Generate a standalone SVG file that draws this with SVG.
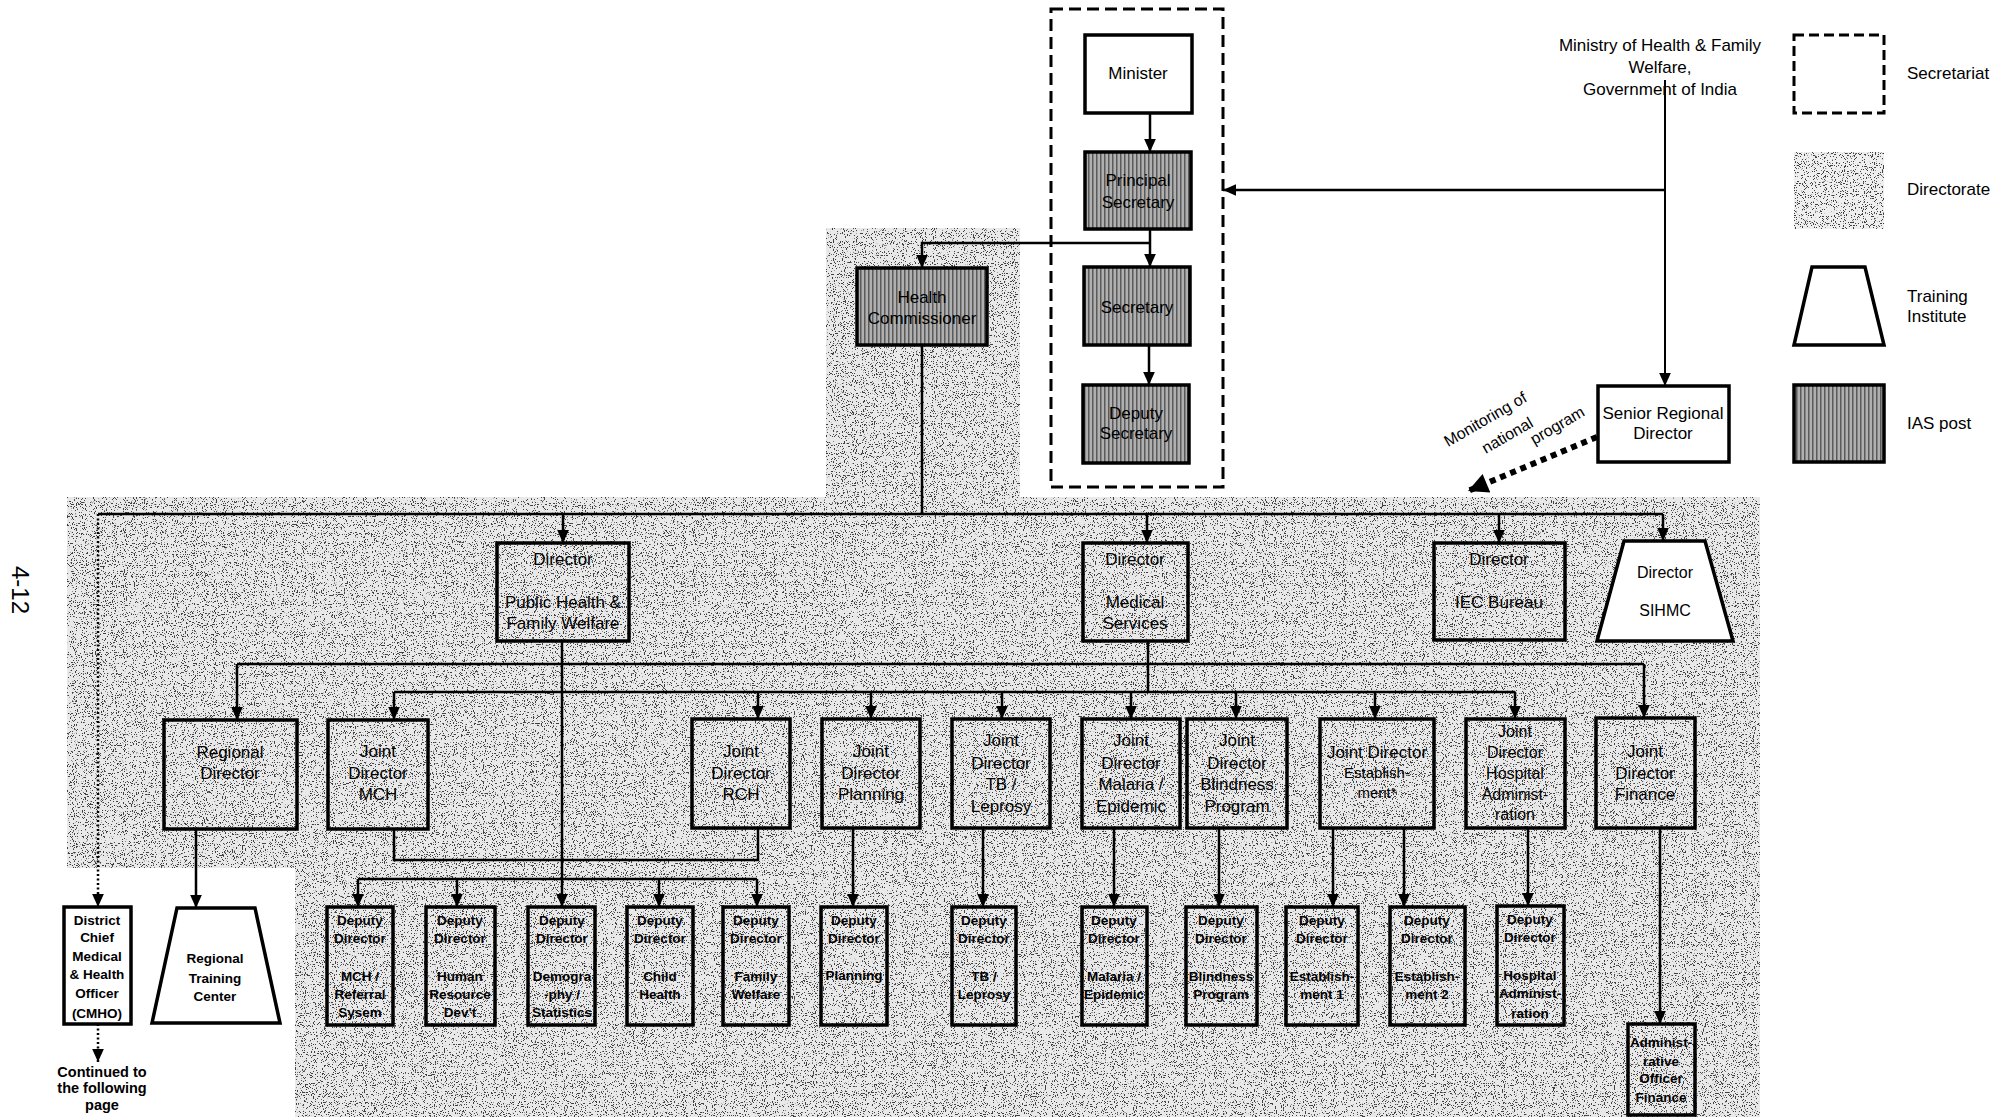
<svg xmlns="http://www.w3.org/2000/svg" width="2016" height="1117" viewBox="0 0 2016 1117">
<defs>
<style>
.t{font-family:"Liberation Sans",Arial,sans-serif;font-size:17px;text-anchor:middle;fill:#000}
.s{font-size:13.5px;font-weight:bold}
.h{font-size:16px}
.l{text-anchor:start}
.b{fill:none;stroke:#000;stroke-width:3.5}
.w{fill:#fff;stroke:#000;stroke-width:3.5}
.i{fill:url(#iasp);stroke:#000;stroke-width:3.5}
.c{fill:none;stroke:#000;stroke-width:2.5}
.ca{fill:none;stroke:#000;stroke-width:2.5;marker-end:url(#ah)}
.dot{fill:none;stroke:#000;stroke-width:2.5;stroke-dasharray:2 2.5;marker-end:url(#ah)}
</style>
<marker id="ah" viewBox="0 0 10 10" refX="10" refY="5" markerWidth="14" markerHeight="13" markerUnits="userSpaceOnUse" orient="auto"><path d="M0,0.5 L10,5 L0,9.5 z" fill="#000"/></marker>
<marker id="ahb" viewBox="0 0 10 10" refX="10" refY="5" markerWidth="22" markerHeight="20" markerUnits="userSpaceOnUse" orient="auto"><path d="M0,0 L10,5 L0,10 z" fill="#000"/></marker>
<pattern id="iasp" width="4" height="4" patternUnits="userSpaceOnUse"><rect width="4" height="4" fill="#b0b0b0"/><rect width="1.5" height="4" fill="#5a5a5a"/></pattern>
<filter id="speck" x="0" y="0" width="1" height="1" color-interpolation-filters="sRGB">
<feTurbulence type="fractalNoise" baseFrequency="0.9" numOctaves="2" seed="5" result="n"/>
<feColorMatrix in="n" type="matrix" values="0 0 0 0 0.25  0 0 0 0 0.25  0 0 0 0 0.25  -24 0 0 0 9.4" result="d"/>
<feComposite in="d" in2="SourceGraphic" operator="in" result="dc"/>
<feMerge><feMergeNode in="SourceGraphic"/><feMergeNode in="dc"/></feMerge>
</filter>
</defs>
<rect width="2016" height="1117" fill="#fff"/>

<g id="directorate-area">
<path d="M67,497 H826 V228 H1020 V497 H1760 V1117 H295 V868 H67 Z" fill="#e9e9e9" filter="url(#speck)"/>
</g>

<text class="t" transform="translate(20,590) rotate(90)" style="font-size:24px" dy="8">4-12</text>

<g id="connectors">
<path class="ca" d="M1150,113 V152"/>
<path class="ca" d="M1150,229 V267"/>
<path class="ca" d="M1150,243 H922 V268"/>
<path class="ca" d="M1149,345 V385"/>
<path class="ca" d="M1665,80 V386" style="stroke-width:2"/>
<path class="ca" d="M1665,190 H1223"/>
<path class="c" d="M922,345 V514"/>
<path class="c" d="M98,514 H1663"/>
<path class="ca" d="M563,514 V543"/>
<path class="ca" d="M1147,514 V543"/>
<path class="ca" d="M1499,514 V543"/>
<path class="ca" d="M1663,514 V541"/>
<path class="dot" d="M98,514 V907"/>
<path class="dot" d="M98,1024 V1062"/>
<path class="ca" d="M562,641 V907"/>
<path class="c" d="M237,664 H1644"/>
<path class="ca" d="M237,664 V720"/>
<path class="ca" d="M1644,664 V718"/>
<path class="c" d="M1148,641 V692"/>
<path class="c" d="M394,692 H1515"/>
<path class="ca" d="M394,692 V720"/>
<path class="ca" d="M758,692 V719"/>
<path class="ca" d="M871,692 V719"/>
<path class="ca" d="M1002,692 V719"/>
<path class="ca" d="M1131,692 V719"/>
<path class="ca" d="M1236,692 V719"/>
<path class="ca" d="M1375,692 V719"/>
<path class="ca" d="M1515,692 V719"/>
<path class="ca" d="M196,829 V908"/>
<path class="c" d="M394,829 V860 H758 V828"/>
<path class="c" d="M358,879 H757"/>
<path class="ca" d="M358,879 V907"/>
<path class="ca" d="M457,879 V907"/>
<path class="ca" d="M659,879 V907"/>
<path class="ca" d="M757,879 V907"/>
<path class="ca" d="M853,828 V907"/>
<path class="ca" d="M983,828 V907"/>
<path class="ca" d="M1114,828 V907"/>
<path class="ca" d="M1219,828 V907"/>
<path class="ca" d="M1333,828 V907"/>
<path class="ca" d="M1404,828 V907"/>
<path class="ca" d="M1528,828 V906"/>
<path class="ca" d="M1660,828 V1024"/>
<path d="M1597,437 L1468,491" fill="none" stroke="#000" stroke-width="6" stroke-dasharray="6 5" marker-end="url(#ahb)"/>
</g>

<g id="secretariat"><rect x="1051" y="9" width="172" height="478" fill="none" stroke="#000" stroke-width="3" stroke-dasharray="12 6"/></g>

<g id="minister"><rect class="w" x="1085" y="35" width="107" height="78"/><text class="t" x="1138" y="79">Minister</text></g>
<g id="principal-secretary"><rect class="i" x="1085" y="152" width="106" height="77"/><text class="t" x="1138" y="186">Principal</text><text class="t" x="1138" y="208">Secretary</text></g>
<g id="secretary"><rect class="i" x="1084" y="267" width="106" height="78"/><text class="t" x="1137" y="313">Secretary</text></g>
<g id="deputy-secretary"><rect class="i" x="1083" y="385" width="106" height="78"/><text class="t" x="1136" y="419">Deputy</text><text class="t" x="1136" y="439">Secretary</text></g>
<g id="health-commissioner"><rect class="i" x="857" y="268" width="130" height="77"/><text class="t" x="922" y="303">Health</text><text class="t" x="922" y="324">Commissioner</text></g>

<g id="ministry"><text class="t" x="1660" y="51">Ministry of Health &amp; Family</text><text class="t" x="1660" y="73">Welfare,</text><text class="t" x="1660" y="95">Government of India</text></g>
<g id="senior-regional-director"><rect class="w" x="1598" y="386" width="131" height="76"/><text class="t" x="1663" y="419">Senior Regional</text><text class="t" x="1663" y="439">Director</text></g>
<g id="monitoring-label">
<text class="t h" transform="translate(1488,424) rotate(-30)">Monitoring of</text>
<text class="t h" transform="translate(1510,440) rotate(-30)">national</text>
<text class="t h" transform="translate(1560,430) rotate(-30)">program</text>
</g>

<g id="legend">
<rect x="1794" y="35" width="90" height="78" fill="#fff" stroke="#000" stroke-width="3" stroke-dasharray="10 5"/>
<rect x="1794" y="152" width="90" height="77" fill="#efefef" filter="url(#speck)"/>
<path class="w" d="M1812,267 H1865 L1884,345 H1794 Z"/>
<rect class="i" x="1794" y="385" width="90" height="77"/>
<text class="t l" x="1907" y="79">Secretariat</text>
<text class="t l" x="1907" y="195">Directorate</text>
<text class="t l" x="1907" y="302">Training</text>
<text class="t l" x="1907" y="322">Institute</text>
<text class="t l" x="1907" y="429">IAS post</text>
</g>

<g id="dir-phfw"><rect class="b" x="497" y="543" width="132" height="98"/><text class="t" x="563" y="565">Director</text><text class="t" x="563" y="608">Public Health &amp;</text><text class="t" x="563" y="629">Family Welfare</text></g>
<g id="dir-ms"><rect class="b" x="1083" y="543" width="105" height="98"/><text class="t" x="1135" y="565">Director</text><text class="t" x="1135" y="608">Medical</text><text class="t" x="1135" y="629">Services</text></g>
<g id="dir-iec"><rect class="b" x="1434" y="543" width="131" height="97"/><text class="t" x="1499" y="565">Director</text><text class="t" x="1499" y="608">IEC Bureau</text></g>
<g id="dir-sihmc"><path class="w" d="M1624,541 H1705 L1733,641 H1597 Z"/><text class="t h" x="1665" y="578">Director</text><text class="t h" x="1665" y="616">SIHMC</text></g>

<g id="regional-director"><rect class="b" x="164" y="720" width="133" height="109"/><text class="t" x="230" y="758">Regional</text><text class="t" x="230" y="779">Director</text></g>
<g id="jd-mch"><rect class="b" x="328" y="720" width="100" height="109"/><text class="t" x="378" y="757">Joint</text><text class="t" x="378" y="779">Director</text><text class="t" x="378" y="800">MCH</text></g>
<g id="jd-rch"><rect class="b" x="692" y="719" width="98" height="109"/><text class="t" x="741" y="757">Joint</text><text class="t" x="741" y="779">Director</text><text class="t" x="741" y="800">RCH</text></g>
<g id="jd-planning"><rect class="b" x="822" y="719" width="98" height="109"/><text class="t" x="871" y="757">Joint</text><text class="t" x="871" y="779">Director</text><text class="t" x="871" y="800">Planning</text></g>
<g id="jd-tb"><rect class="b" x="952" y="719" width="98" height="109"/><text class="t" x="1001" y="746">Joint</text><text class="t" x="1001" y="769">Director</text><text class="t" x="1001" y="790">TB /</text><text class="t" x="1001" y="812">Leprosy</text></g>
<g id="jd-malaria"><rect class="b" x="1082" y="719" width="98" height="109"/><text class="t" x="1131" y="746">Joint</text><text class="t" x="1131" y="769">Director</text><text class="t" x="1131" y="790">Malaria /</text><text class="t" x="1131" y="812">Epidemic</text></g>
<g id="jd-blindness"><rect class="b" x="1187" y="719" width="100" height="109"/><text class="t" x="1237" y="746">Joint</text><text class="t" x="1237" y="769">Director</text><text class="t" x="1237" y="790">Blindness</text><text class="t" x="1237" y="812">Program</text></g>
<g id="jd-establishment"><rect class="b" x="1320" y="719" width="114" height="109"/><text class="t" x="1377" y="758">Joint Director</text><text class="t" x="1377" y="778" style="font-size:15px">Establish-</text><text class="t" x="1377" y="798" style="font-size:15px">ment*</text></g>
<g id="jd-hospital"><rect class="b" x="1466" y="719" width="99" height="109"/><text class="t h" x="1515" y="737">Joint</text><text class="t h" x="1515" y="758">Director</text><text class="t h" x="1515" y="779">Hospital</text><text class="t h" x="1515" y="800">Administ-</text><text class="t h" x="1515" y="820">ration</text></g>
<g id="jd-finance"><rect class="b" x="1596" y="718" width="99" height="110"/><text class="t" x="1645" y="757">Joint</text><text class="t" x="1645" y="779">Director</text><text class="t" x="1645" y="800">Finance</text></g>

<g id="cmho"><rect class="w" x="64" y="907" width="67" height="117"/><text class="t s" x="97" y="925">District</text><text class="t s" x="97" y="942">Chief</text><text class="t s" x="97" y="961">Medical</text><text class="t s" x="97" y="979">&amp; Health</text><text class="t s" x="97" y="998">Officer</text><text class="t s" x="97" y="1018">(CMHO)</text></g>
<g id="continued"><text class="t s" x="102" y="1077" style="font-size:14.5px">Continued to</text><text class="t s" x="102" y="1093" style="font-size:14.5px">the following</text><text class="t s" x="102" y="1110" style="font-size:14.5px">page</text></g>
<g id="regional-training-center"><path class="w" d="M177,908 H255 L280,1023 H152 Z"/><text class="t s" x="215" y="963">Regional</text><text class="t s" x="215" y="983">Training</text><text class="t s" x="215" y="1001">Center</text></g>

<g id="dd-mch"><rect class="b" x="327" y="907" width="66" height="118"/><text class="t s" x="360" y="925">Deputy</text><text class="t s" x="360" y="943">Director</text><text class="t s" x="360" y="981">MCH /</text><text class="t s" x="360" y="999">Referral</text><text class="t s" x="360" y="1017">Sysem</text></g>
<g id="dd-hrd"><rect class="b" x="426" y="907" width="69" height="118"/><text class="t s" x="460" y="925">Deputy</text><text class="t s" x="460" y="943">Director</text><text class="t s" x="460" y="981">Human</text><text class="t s" x="460" y="999">Resource</text><text class="t s" x="460" y="1017">Dev't</text></g>
<g id="dd-demography"><rect class="b" x="528" y="907" width="67" height="118"/><text class="t s" x="562" y="925">Deputy</text><text class="t s" x="562" y="943">Director</text><text class="t s" x="562" y="981">Demogra</text><text class="t s" x="562" y="999">-phy /</text><text class="t s" x="562" y="1017">Statistics</text></g>
<g id="dd-child"><rect class="b" x="627" y="907" width="66" height="118"/><text class="t s" x="660" y="925">Deputy</text><text class="t s" x="660" y="943">Director</text><text class="t s" x="660" y="981">Child</text><text class="t s" x="660" y="999">Health</text></g>
<g id="dd-family"><rect class="b" x="723" y="907" width="66" height="118"/><text class="t s" x="756" y="925">Deputy</text><text class="t s" x="756" y="943">Director</text><text class="t s" x="756" y="981">Family</text><text class="t s" x="756" y="999">Welfare</text></g>
<g id="dd-planning"><rect class="b" x="821" y="907" width="66" height="118"/><text class="t s" x="854" y="925">Deputy</text><text class="t s" x="854" y="943">Director</text><text class="t s" x="854" y="980">Planning</text></g>
<g id="dd-tb"><rect class="b" x="952" y="907" width="64" height="118"/><text class="t s" x="984" y="925">Deputy</text><text class="t s" x="984" y="943">Director</text><text class="t s" x="984" y="981">TB /</text><text class="t s" x="984" y="999">Leprosy</text></g>
<g id="dd-malaria"><rect class="b" x="1082" y="907" width="65" height="118"/><text class="t s" x="1114" y="925">Deputy</text><text class="t s" x="1114" y="943">Director</text><text class="t s" x="1114" y="981">Malaria /</text><text class="t s" x="1114" y="999">Epidemic</text></g>
<g id="dd-blindness"><rect class="b" x="1186" y="907" width="71" height="118"/><text class="t s" x="1221" y="925">Deputy</text><text class="t s" x="1221" y="943">Director</text><text class="t s" x="1221" y="981">Blindness</text><text class="t s" x="1221" y="999">Program</text></g>
<g id="dd-est1"><rect class="b" x="1286" y="907" width="72" height="118"/><text class="t s" x="1322" y="925">Deputy</text><text class="t s" x="1322" y="943">Director</text><text class="t s" x="1322" y="981">Establish-</text><text class="t s" x="1322" y="999">ment 1</text></g>
<g id="dd-est2"><rect class="b" x="1390" y="907" width="75" height="118"/><text class="t s" x="1427" y="925">Deputy</text><text class="t s" x="1427" y="943">Director</text><text class="t s" x="1427" y="981">Establish-</text><text class="t s" x="1427" y="999">ment 2</text></g>
<g id="dd-hospital"><rect class="b" x="1497" y="906" width="67" height="119"/><text class="t s" x="1530" y="924">Deputy</text><text class="t s" x="1530" y="942">Director</text><text class="t s" x="1530" y="980">Hospital</text><text class="t s" x="1530" y="998">Administ-</text><text class="t s" x="1530" y="1018">ration</text></g>
<g id="admin-officer-finance"><rect class="b" x="1628" y="1024" width="67" height="91"/><text class="t s" x="1661" y="1047">Administ-</text><text class="t s" x="1661" y="1066">rative</text><text class="t s" x="1661" y="1083">Officer</text><text class="t s" x="1661" y="1102">Finance</text></g>
</svg>
